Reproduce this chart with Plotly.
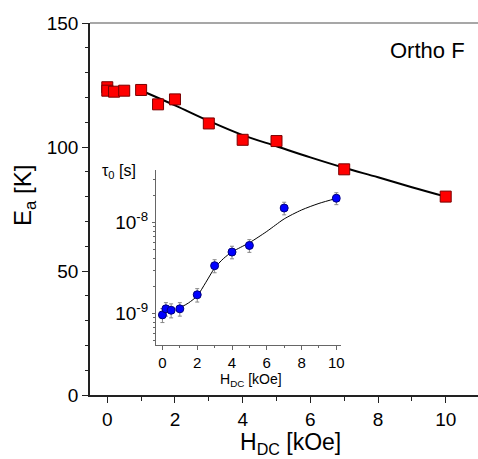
import plotly.graph_objects as go

# ---- main data: activation energy vs field
H_main = [0, 0, 0.2, 0.5, 1, 1.5, 2, 3, 4, 5, 7, 10]
Ea = [124.1, 122.7, 122.3, 122.7, 123.0, 117.2, 119.2, 109.5, 102.9, 102.4, 91.0, 80.0]
H_fit = [1, 2, 3, 4, 5, 6, 7, 8, 9, 10]
Ea_fit = [122.8, 116.8, 110.5, 104.8, 100.3, 95.8, 91.6, 87.8, 83.8, 80.0]

# ---- inset data: tau0 vs field
H_in = [0, 0.2, 0.5, 1, 2, 3, 4, 5, 7, 10]
tau0 = [9.6e-10, 1.12e-9, 1.08e-9, 1.12e-9, 1.6e-9, 3.35e-9, 4.74e-9, 5.6e-9, 1.45e-8, 1.86e-8]
tau0_err = [1.7e-10, 1.9e-10, 1.9e-10, 1.9e-10, 2.7e-10, 5.5e-10, 7.5e-10, 9e-10, 2.3e-9, 2.8e-9]
H_in_fit = [1, 1.5, 2, 2.5, 3, 3.5, 4, 4.5, 5, 5.5, 6, 6.5, 7, 8, 9, 10]
tau0_fit = [1.15e-9, 1.3e-9, 1.56e-9, 2.2e-9, 3.15e-9, 4.0e-9, 4.75e-9, 5.35e-9, 6.0e-9, 6.9e-9,
            8.0e-9, 9.4e-9, 1.1e-8, 1.38e-8, 1.63e-8, 1.85e-8]

main_xticks = [0, 2, 4, 6, 8, 10]
main_yticks = [0, 50, 100, 150]
inset_xticks = [0, 2, 4, 6, 8, 10]
inset_yticks = [1e-9, 1e-8]
inset_yticktext = ["10<sup>-9</sup>", "10<sup>-8</sup>"]
inset_yminor = [m * 10 ** e for e in (-10, -9, -8) for m in range(2, 10)]

W, Hh = 478, 459
FONT = "Liberation Sans, Arial, sans-serif"

def px_x(p):
    return p / W

def px_y(p):
    return 1 - p / Hh

fig = go.Figure()

fig.add_trace(go.Scatter(x=H_fit, y=Ea_fit, mode="lines", line=dict(color="black", width=2, shape="spline"),
                         xaxis="x", yaxis="y", hoverinfo="skip"))
fig.add_trace(go.Scatter(x=H_main, y=Ea, mode="markers",
                         marker=dict(symbol="square", size=11, color="#FF0000", line=dict(color="#7a0000", width=1)),
                         xaxis="x", yaxis="y"))

fig.add_trace(go.Scatter(x=H_in_fit, y=tau0_fit, mode="lines", line=dict(color="black", width=1, shape="spline", smoothing=0.8),
                         xaxis="x2", yaxis="y2", hoverinfo="skip"))
fig.add_trace(go.Scatter(x=H_in, y=tau0, mode="markers",
                         error_y=dict(type="data", array=tau0_err, color="#888888", thickness=1, width=2),
                         marker=dict(symbol="circle", size=8, color="#0000FF", line=dict(color="#00007a", width=1)),
                         xaxis="x2", yaxis="y2"))

axis_common = dict(showgrid=False, zeroline=False, showline=True, linecolor="#222222",
                   ticks="outside", tickcolor="#222222", automargin=False)

fig.update_layout(
    width=W, height=Hh,
    margin=dict(l=0, r=0, t=0, b=0, pad=0, autoexpand=False),
    paper_bgcolor="white", plot_bgcolor="rgba(0,0,0,0)",
    showlegend=False,
    font=dict(family=FONT, color="black"),
    xaxis=dict(domain=[px_x(90), 1], range=[-0.511, 10.954], tickvals=main_xticks,
               ticklen=6, tickwidth=1, linewidth=1.5,
               tickfont=dict(size=19, family=FONT),
               minor=dict(tickvals=[1, 3, 5, 7, 9], ticklen=4, tickcolor="#222222"),
               anchor="y", **axis_common),
    yaxis=dict(domain=[px_y(395), px_y(23)], range=[0, 150], tickvals=main_yticks,
               ticklen=6, tickwidth=1, linewidth=1.5,
               tickfont=dict(size=19, family=FONT),
               minor=dict(tickvals=[10, 20, 30, 40, 60, 70, 80, 90, 110, 120, 130, 140], ticklen=3, tickcolor="#222222"),
               anchor="x", **axis_common),
    xaxis2=dict(domain=[px_x(156), px_x(340.7)], range=[-0.37, 10.25], tickvals=inset_xticks,
                ticklen=4, tickwidth=1, linewidth=1, linecolor="#666666",
                tickfont=dict(size=15, family=FONT),
                minor=dict(tickvals=[1, 3, 5, 7, 9], ticklen=2, tickcolor="#666666"),
                anchor="y2", showgrid=False, zeroline=False, showline=True, ticks="outside",
                tickcolor="#666666", automargin=False),
    yaxis2=dict(domain=[px_y(345), px_y(170)], type="log", range=[-9.35, -7.419],
                tickvals=inset_yticks, ticktext=inset_yticktext,
                ticklen=3, tickwidth=1, linewidth=1, linecolor="#666666",
                tickfont=dict(size=19, family=FONT),
                minor=dict(tickvals=inset_yminor, ticklen=2, tickcolor="#666666"),
                anchor="x2", showgrid=False, zeroline=False, showline=True, ticks="outside",
                tickcolor="#666666", automargin=False),
)

# top frame line of main plot
fig.add_shape(type="line", xref="paper", yref="paper", x0=px_x(90), x1=1, y0=px_y(23), y1=px_y(23),
              line=dict(color="#8a8a8a", width=1.5))

annos = [
    dict(text="Ortho F", x=px_x(467), y=px_y(50), xanchor="right", yanchor="middle", font=dict(size=22)),
    dict(text="H<sub>DC</sub> [kOe]", x=px_x(290), y=px_y(427), xanchor="center", yanchor="top", font=dict(size=23)),
    dict(text="E<sub>a</sub> [K]", x=px_x(25), y=px_y(196), xanchor="center", yanchor="middle", textangle=-90,
         font=dict(size=24)),
    dict(text="τ<sub>0</sub> [s]", x=px_x(100), y=px_y(172), xanchor="left", yanchor="middle", font=dict(size=16)),
    dict(text="H<sub>DC</sub> [kOe]", x=px_x(251), y=px_y(369), xanchor="center", yanchor="top", font=dict(size=14)),
]
for a in annos:
    fig.add_annotation(xref="paper", yref="paper", showarrow=False, font_family=FONT, font_color="black", **a)

fig.write_html("out.html")
